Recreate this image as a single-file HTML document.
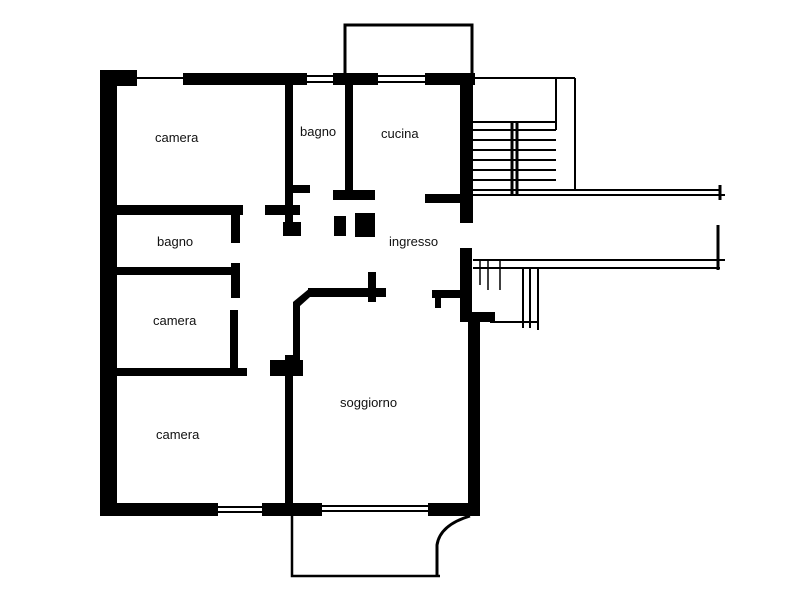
<!DOCTYPE html>
<html><head><meta charset="utf-8"><style>
html,body{margin:0;padding:0;background:#fff;width:800px;height:600px;overflow:hidden}
text{font-family:"Liberation Sans",sans-serif;font-size:13px;fill:#111}
</style></head><body>
<svg width="800" height="600" viewBox="0 0 800 600" xmlns="http://www.w3.org/2000/svg">
<g fill="#000">
<!-- outer left -->
<rect x="100" y="70" width="17" height="446"/>
<rect x="100" y="70" width="37" height="16"/>
<!-- top wall thick segments -->
<rect x="183" y="73" width="124" height="12"/>
<rect x="333" y="73" width="45" height="12"/>
<rect x="425" y="73" width="50" height="12"/>
<!-- right upper -->
<rect x="460" y="73" width="13" height="150"/>
<rect x="460" y="248" width="12" height="74"/>
<rect x="460" y="312" width="35" height="10"/>
<rect x="468" y="312" width="12" height="204"/>
<!-- bottom -->
<rect x="100" y="503" width="118" height="13"/>
<rect x="262" y="503" width="60" height="13"/>
<rect x="428" y="503" width="52" height="13"/>
<!-- left interior walls -->
<rect x="117" y="205" width="126" height="10"/>
<rect x="117" y="267" width="123" height="8"/>
<rect x="117" y="368" width="130" height="8"/>
<rect x="231" y="205" width="9" height="38"/>
<rect x="231" y="263" width="9" height="35"/>
<rect x="230" y="310" width="8" height="66"/>
<!-- camera/bagno wall -->
<rect x="285" y="82" width="8" height="152"/>
<rect x="265" y="205" width="35" height="10"/>
<rect x="290" y="185" width="20" height="8"/>
<rect x="283" y="222" width="18" height="14"/>
<!-- bagno/cucina -->
<rect x="345" y="82" width="8" height="115"/>
<rect x="333" y="190" width="42" height="10"/>
<rect x="334" y="216" width="12" height="20"/>
<rect x="355" y="213" width="20" height="24"/>
<rect x="425" y="194" width="40" height="9"/>
<!-- soggiorno -->
<rect x="285" y="355" width="8" height="150"/>
<rect x="270" y="360" width="33" height="16"/>
<rect x="293" y="302" width="7" height="60"/>
<polygon points="293,302 310,288 310,297 300,306"/>
<rect x="308" y="288" width="78" height="9"/>
<rect x="368" y="272" width="8" height="30"/>
<rect x="432" y="290" width="30" height="8"/>
<rect x="435" y="290" width="6" height="18"/>
</g>
<g stroke="#000" fill="none" stroke-width="2">
<!-- thin window lines -->
<path d="M137 78H183M307 76H333M307 82H333M378 76H425M378 82H425"/>
<path d="M218 507H262M218 512H262M322 506H428M322 511H428"/>
<!-- top balcony -->
<path d="M345 73V25H472V73" stroke-width="3"/>
<!-- bottom balcony -->
<path d="M292 516V576H440" stroke-width="2.5"/>
<path d="M437 576V545Q440 525 470 516" stroke-width="3"/>
<!-- right stairs -->
<path d="M473 78H575M556 78V130M575 78V190M473 122H556M473 130H556M473 140H556M473 150H556M473 160H556M473 170H556M473 180H556M473 190H720M473 195H725" stroke-width="2"/>
<path d="M512 122V196M517 122V196" stroke-width="3"/>
<path d="M720 185V200M718 225V270" stroke-width="3"/>
<path d="M473 260H725M473 268H720M523 268V328M530 268V328M538 268V330M490 322H538" stroke-width="2"/>
<path d="M480 260V285M488 260V290M500 260V290" stroke-width="1.5"/>
</g>
<text x="155" y="142">camera</text>
<text x="300" y="136">bagno</text>
<text x="381" y="138">cucina</text>
<text x="157" y="246">bagno</text>
<text x="389" y="246">ingresso</text>
<text x="153" y="325">camera</text>
<text x="156" y="439">camera</text>
<text x="340" y="407">soggiorno</text>
</svg>
</body></html>
